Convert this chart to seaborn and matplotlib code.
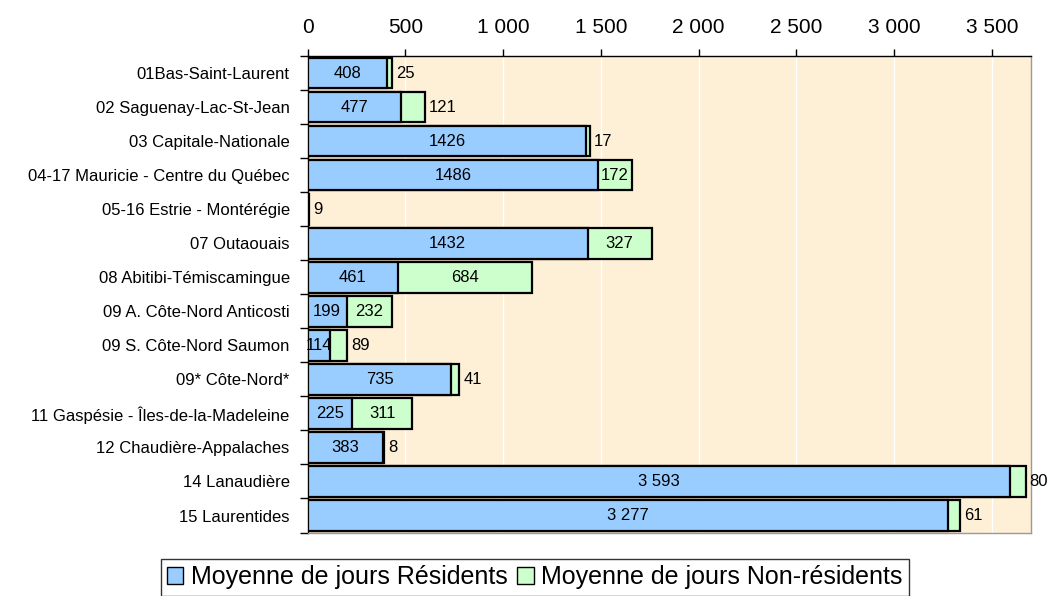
import numpy as np
import pandas as pd
import matplotlib
matplotlib.use('Agg')
import matplotlib.pyplot as plt
import seaborn as sns
from matplotlib.patches import Patch
from matplotlib.ticker import FuncFormatter, MultipleLocator

regions = ['01Bas-Saint-Laurent', '02 Saguenay-Lac-St-Jean', '03 Capitale-Nationale',
           '04-17 Mauricie - Centre du Québec', '05-16 Estrie - Montérégie', '07 Outaouais',
           '08 Abitibi-Témiscamingue', '09 A. Côte-Nord Anticosti', '09 S. Côte-Nord Saumon',
           '09* Côte-Nord*', '11 Gaspésie - Îles-de-la-Madeleine', '12 Chaudière-Appalaches',
           '14 Lanaudière', '15 Laurentides']
residents = [408, 477, 1426, 1486, np.nan, 1432, 461, 199, 114, 735, 225, 383, 3593, 3277]
non_residents = [25, 121, 17, 172, 9, 327, 684, 232, 89, 41, 311, 8, 80, 61]

blue = '#99CCFF'
green = '#CCFFCC'

df = pd.DataFrame({'region': regions, 'res': residents, 'nonres': non_residents})
df['total'] = df['res'].fillna(0) + df['nonres']

sns.set_style('white')
plt.rcParams['font.family'] = ['Liberation Sans', 'DejaVu Sans']
plt.rcParams['text.color'] = 'black'
plt.rcParams['xtick.color'] = 'black'
plt.rcParams['ytick.color'] = 'black'

fig = plt.figure(figsize=[10.61, 5.96], dpi=100)
ax = fig.add_axes([0.29, 0.1065, 0.9717 - 0.29, 0.906 - 0.1065])
ax.set_facecolor('#FDF0D7')

# stacked look: totals (green) underneath, residents (blue) on top
sns.barplot(data=df, x='total', y='region', orient='h', color=green, saturation=1,
            width=0.9, edgecolor='black', linewidth=1.6, ax=ax, zorder=2)
sns.barplot(data=df, x='res', y='region', orient='h', color=blue, saturation=1,
            width=0.9, edgecolor='black', linewidth=1.6, ax=ax, zorder=3)


def fmt(v):
    v = int(v)
    return f'{v:,}'.replace(',', ' ') if v >= 2000 else str(v)


for i, row in df.iterrows():
    res = 0 if np.isnan(row['res']) else row['res']
    if res > 0:
        ax.text(res / 2, i, fmt(res), ha='center', va='center', fontsize=12, zorder=4)
    if row['nonres'] >= 150:
        ax.text(res + row['nonres'] / 2, i, fmt(row['nonres']), ha='center', va='center',
                fontsize=12, zorder=4)
    else:
        ax.text(row['total'] + 20, i, fmt(row['nonres']), ha='left', va='center',
                fontsize=12, zorder=4)

ax.set_xlim(0, 3700)
ax.set_ylim(len(regions) - 0.5, -0.5)
ax.xaxis.set_major_locator(MultipleLocator(500))
ax.xaxis.set_major_formatter(FuncFormatter(lambda v, p: f'{int(v):,}'.replace(',', ' ')))
ax.xaxis.tick_top()
ax.xaxis.set_label_position('top')
ax.tick_params(axis='x', which='major', direction='out', length=5, width=1, colors='black',
               labelsize=15, pad=9, top=True, bottom=False)
ax.grid(axis='x', color='white', linewidth=1, zorder=0)
ax.set_axisbelow(True)

ax.set_yticks(range(len(regions)))
ax.set_yticklabels(regions, fontsize=12)
ax.set_yticks(np.arange(-0.5, len(regions) + 0.5, 1), minor=True)
ax.tick_params(axis='y', which='major', length=0, pad=13)
ax.tick_params(axis='y', which='minor', direction='out', length=6, width=1, left=True)
ax.set_xlabel('')
ax.set_ylabel('')

for side in ['left', 'top']:
    ax.spines[side].set_color('black')
    ax.spines[side].set_linewidth(1)
for side in ['right', 'bottom']:
    ax.spines[side].set_color('#999999')
    ax.spines[side].set_linewidth(1)

handles = [Patch(facecolor=blue, edgecolor='black', label='Moyenne de jours Résidents'),
           Patch(facecolor=green, edgecolor='black', label='Moyenne de jours Non-résidents')]
leg = fig.legend(handles=handles, loc='upper center', bbox_to_anchor=(0.504, 0.062), ncol=2,
                 frameon=True, fancybox=False, edgecolor='black',
                 prop={'family': ['Liberation Sans'], 'size': 18},
                 handlelength=0.65, handleheight=0.65, handletextpad=0.3, columnspacing=0.4,
                 borderpad=0.25, borderaxespad=0)
leg.get_frame().set_linewidth(1)

fig.savefig('out.png', dpi=100)
